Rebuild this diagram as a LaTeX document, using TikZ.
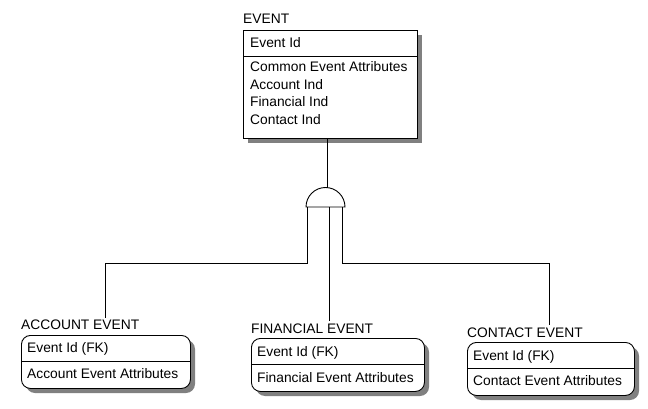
\documentclass[tikz,border=0pt]{standalone}
\usepackage{fontspec}
\setmainfont{Liberation Sans}
\begin{document}
\begin{tikzpicture}[x=1pt,y=-1pt,
  font=\fontsize{13.8}{15}\selectfont,
  ent/.style={draw=black, line width=0.9pt, fill=white, anchor=north west, inner sep=0pt},
  dep/.style={ent, rounded corners=9pt},
  shade/.style={fill=black!50, draw=none},
  lbl/.style={anchor=base west, inner sep=0pt},
  conn/.style={draw=black, line width=0.9pt}]
\useasboundingbox[fill=white] (0,0) rectangle (648,409);

% ---------- EVENT ----------
\fill[shade] (248,35) rectangle (422,143);
\node[ent, minimum width=174pt, minimum height=108pt] (event) at (243,30) {};
\draw[conn] (event.west |- 0,56) -- (event.east |- 0,56);
\node[lbl] (evtitle) at (243,24) {EVENT};
\node[lbl] (evid) at (250,47.5) {Event Id};
\node[lbl] (evattr) at (250,72) {Common Event Attributes};
\node[lbl] (evacc) at (250,89.5) {Account Ind};
\node[lbl] (evfin) at (250,107) {Financial Ind};
\node[lbl] (evcon) at (250,125) {Contact Ind};

% ---------- subtype symbol ----------
\coordinate (sub) at (325.5,207);
\coordinate (subtop) at (327,187.5);
\draw[conn] (306,207) arc[start angle=180, end angle=0, radius=19.5pt] -- cycle;
\draw[conn] (event.south -| subtop) -- (subtop);
\coordinate (subL) at (307.5,207);
\coordinate (subM) at (329,207);
\coordinate (subR) at (342.5,207);

% ---------- ACCOUNT EVENT ----------
\fill[shade, rounded corners=9pt] (26,340) rectangle (195,393);
\node[dep, minimum width=169pt, minimum height=53pt] (account) at (21,335) {};
\draw[conn] (account.west |- 0,361) -- (account.east |- 0,361);
\node[lbl] (actitle) at (21,329.5) {ACCOUNT EVENT};
\node[lbl] (acid) at (27,352) {Event Id (FK)};
\node[lbl] (acattr) at (27,378.5) {Account Event Attributes};

% ---------- FINANCIAL EVENT ----------
\fill[shade, rounded corners=9pt] (256,343) rectangle (429,396);
\node[dep, minimum width=173pt, minimum height=53pt] (financial) at (251,338) {};
\draw[conn] (financial.west |- 0,364.5) -- (financial.east |- 0,364.5);
\node[lbl] (fititle) at (251,333) {FINANCIAL EVENT};
\node[lbl] (fiid) at (257,356.5) {Event Id (FK)};
\node[lbl] (fiattr) at (257,382) {Financial Event Attributes};

% ---------- CONTACT EVENT ----------
\fill[shade, rounded corners=9pt] (472,347) rectangle (639,400);
\node[dep, minimum width=167pt, minimum height=53pt] (contact) at (467,342) {};
\draw[conn] (contact.west |- 0,368) -- (contact.east |- 0,368);
\node[lbl] (cotitle) at (467,337) {CONTACT EVENT};
\node[lbl] (coid) at (473,360) {Event Id (FK)};
\node[lbl] (coattr) at (473,385) {Contact Event Attributes};

% ---------- connectors ----------
\coordinate (acend) at (105,318);
\coordinate (fiend) at (329,321);
\coordinate (coend) at (549,325);
\draw[conn] (subL) -- (subL |- 0,263) -| (acend);
\draw[conn] (subM) -- (fiend);
\draw[conn] (subR) -- (subR |- 0,263) -| (coend);
\end{tikzpicture}
\end{document}
